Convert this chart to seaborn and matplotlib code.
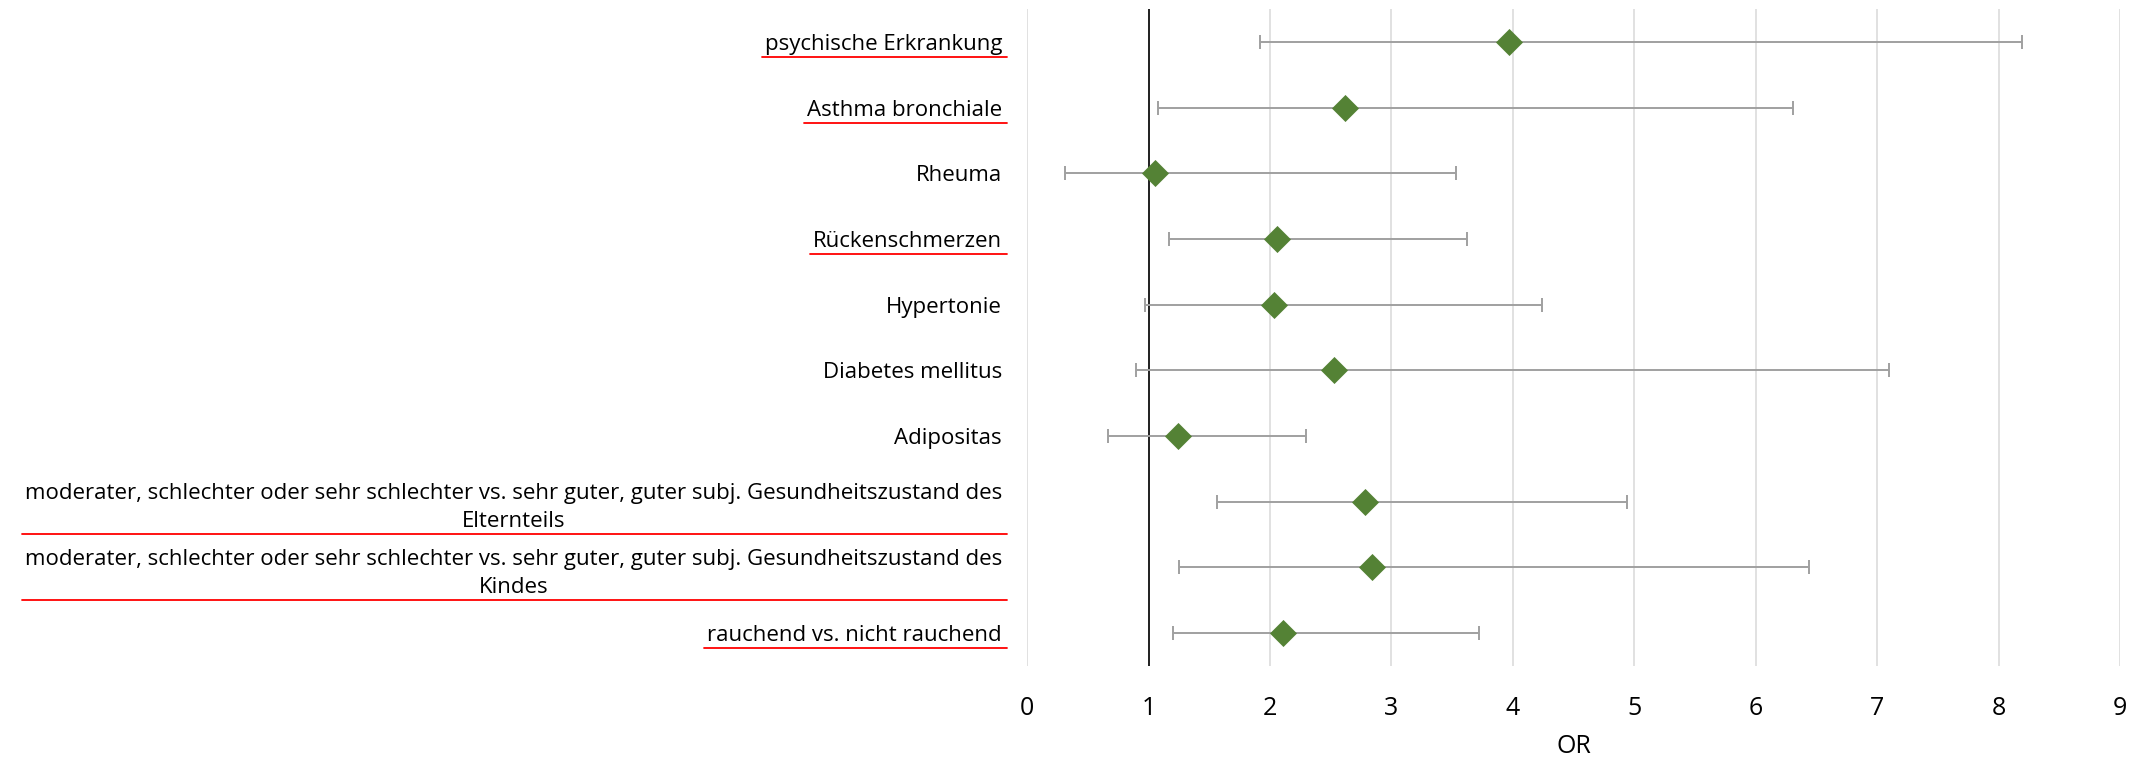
import numpy as np
import pandas as pd
import matplotlib
matplotlib.use("Agg")
import matplotlib.pyplot as plt
from matplotlib.lines import Line2D
import seaborn as sns

labels = [
    "psychische Erkrankung",
    "Asthma bronchiale",
    "Rheuma",
    "Rückenschmerzen",
    "Hypertonie",
    "Diabetes mellitus",
    "Adipositas",
    "moderater, schlechter oder sehr schlechter vs. sehr guter, guter subj. Gesundheitszustand des\nElternteils",
    "moderater, schlechter oder sehr schlechter vs. sehr guter, guter subj. Gesundheitszustand des\nKindes",
    "rauchend vs. nicht rauchend",
]
odds_ratio = [3.97, 2.62, 1.05, 2.06, 2.03, 2.53, 1.24, 2.78, 2.84, 2.11]
ci_lower = [1.92, 1.08, 0.31, 1.17, 0.97, 0.90, 0.67, 1.56, 1.25, 1.20]
ci_upper = [8.19, 6.31, 3.53, 3.62, 4.24, 7.10, 2.30, 4.94, 6.44, 3.72]
underlined = [True, True, False, True, False, False, False, True, True, True]
x_ticks = [0, 1, 2, 3, 4, 5, 6, 7, 8, 9]

GREEN = "#548235"
GREY = "#a0a0a0"

sns.set_style("white")
plt.rcParams["font.family"] = ["Open Sans", "DejaVu Sans"]
plt.rcParams["text.color"] = "black"
plt.rcParams["xtick.color"] = "black"
plt.rcParams["ytick.color"] = "black"
plt.rcParams["axes.labelcolor"] = "black"

df = pd.DataFrame({"label": labels, "OR": odds_ratio,
                   "lo": ci_lower, "hi": ci_upper})
df["pos"] = np.arange(len(df))

fig = plt.figure(figsize=(21.42, 7.61), dpi=100)
ax = fig.add_axes([0.4795, 0.125, 0.5102, 0.863])

for x in x_ticks:
    ax.axvline(x, color="#d9d9d9", lw=1.1, zorder=0)
ax.axvline(1, color="black", lw=1.2, zorder=1)

ax.errorbar(df["OR"], df["pos"],
            xerr=[df["OR"] - df["lo"], df["hi"] - df["OR"]],
            fmt="none", ecolor=GREY, elinewidth=1.4, capsize=5,
            capthick=1.4, zorder=2)
sns.scatterplot(data=df, x="OR", y="pos", marker="D", s=190,
                color=GREEN, edgecolor=GREEN, linewidth=0, zorder=3, ax=ax)

ax.set_xlim(0, 9)
ax.set_ylim(len(df) - 0.5, -0.5)
ax.set_xticks(x_ticks)
ax.set_xticklabels([str(t) for t in x_ticks], fontsize=18)
ax.set_yticks(df["pos"])
ax.set_yticklabels(df["label"], fontsize=16)
for lab in ax.get_yticklabels():
    lab.set_multialignment("center")
    lab.set_linespacing(1.45)
ax.tick_params(axis="y", length=0, pad=18)
ax.tick_params(axis="x", length=0, pad=22)
ax.set_xlabel("OR", fontsize=18, labelpad=9)
ax.set_ylabel("")
for s in ax.spines.values():
    s.set_visible(False)

# red underlines under the marked labels
fig.canvas.draw()
renderer = fig.canvas.get_renderer()
inv = fig.transFigure.inverted()
for lab, flag in zip(ax.get_yticklabels(), underlined):
    if not flag:
        continue
    bb = lab.get_window_extent(renderer)
    (x0, y0), (x1, _) = inv.transform([(bb.x0 - 3, bb.y0 - 2), (bb.x1 + 5, bb.y0)])
    fig.add_artist(Line2D([x0, x1], [y0, y0], transform=fig.transFigure,
                          color="#ff0000", lw=1.3))

fig.savefig("out.png", dpi=100)
